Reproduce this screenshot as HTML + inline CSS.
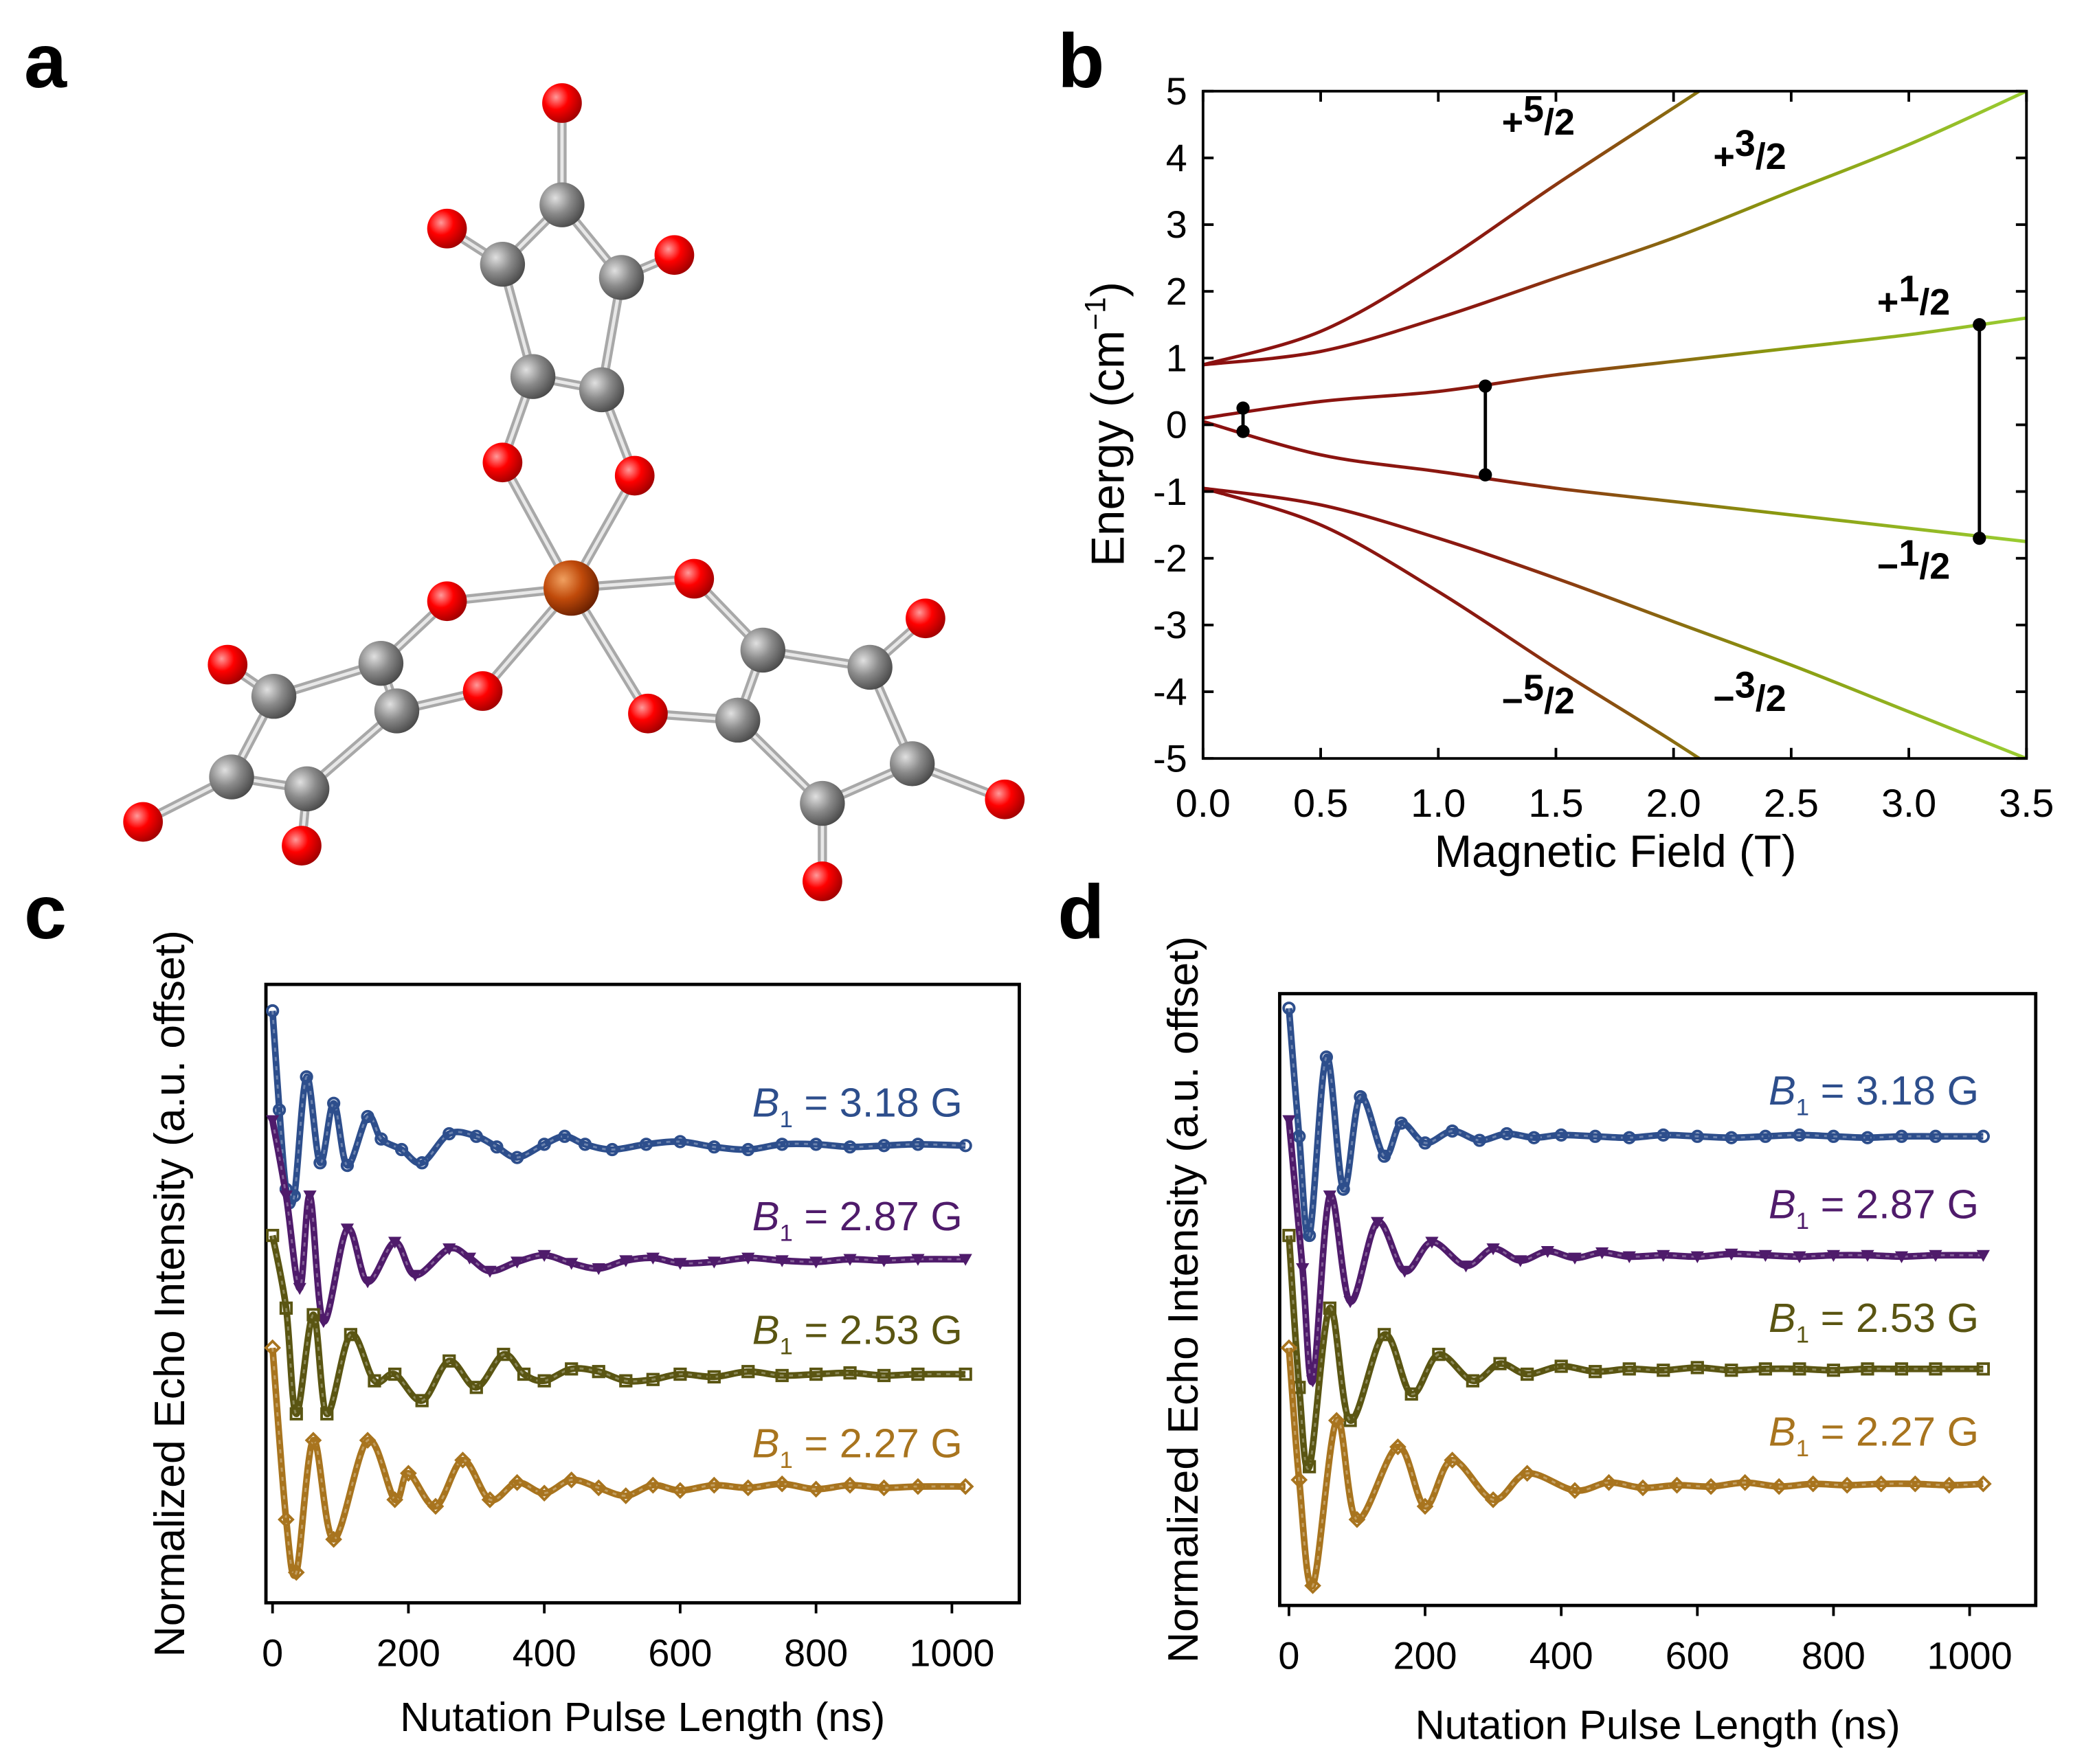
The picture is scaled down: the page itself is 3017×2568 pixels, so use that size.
<!DOCTYPE html>
<html><head><meta charset="utf-8">
<style>
html,body{margin:0;padding:0;background:#fff;}
svg{display:block;font-family:"Liberation Sans",Arial,sans-serif;}
</style></head>
<body>
<svg id="fig" width="3017" height="2568" viewBox="0 0 1568 1335" xmlns="http://www.w3.org/2000/svg">
<defs>
<radialGradient id="gC" cx="0.35" cy="0.35" r="0.7"><stop offset="0" stop-color="#e0e0e0"/><stop offset="0.5" stop-color="#8a8a8a"/><stop offset="1" stop-color="#4a4a4a"/></radialGradient>
<radialGradient id="gO" cx="0.35" cy="0.35" r="0.7"><stop offset="0" stop-color="#ff9a9a"/><stop offset="0.45" stop-color="#ff0000"/><stop offset="1" stop-color="#a00000"/></radialGradient>
<radialGradient id="gFe" cx="0.35" cy="0.35" r="0.7"><stop offset="0" stop-color="#f0a060"/><stop offset="0.5" stop-color="#c04a0a"/><stop offset="1" stop-color="#6a2000"/></radialGradient>
<linearGradient id="lvl" gradientUnits="userSpaceOnUse" x1="910" y1="0" x2="1533" y2="0"><stop offset="0" stop-color="#8b1010"/><stop offset="0.35" stop-color="#8b1a10"/><stop offset="0.7" stop-color="#8a9a10"/><stop offset="1" stop-color="#9acd32"/></linearGradient>
</defs>
<g id="labels" font-weight="bold" font-size="58" fill="#000">
<text x="18" y="66">a</text>
<text x="800" y="66">b</text>
<text x="18" y="710">c</text>
<text x="800" y="710">d</text>
</g>
<g id="mol"></g>
<g id="pb"></g>
<g id="pc"></g>
<g id="pd"></g>
</svg>
<script>
const NS="http://www.w3.org/2000/svg";
function mk(p,t,a){const e=document.createElementNS(NS,t);for(const k in a)e.setAttribute(k,a[k]);p.appendChild(e);return e;}

// ---------- Panel a: molecule ----------
const atomsC=[[425,155],[380,200],[470,210],[403,285],[455,295],[288,502],[300,538],[207,527],[175,588],[232,597],[577,492],[558,545],[658,505],[690,578],[622,608]];
const atomsO=[[425,78],[338,173],[510,193],[380,350],[480,360],[338,455],[365,523],[172,503],[108,622],[228,640],[525,438],[490,540],[700,468],[760,605],[622,667]];
const bonds=[[432,445,380,350],[432,445,480,360],[432,445,338,455],[432,445,365,523],[432,445,525,438],[432,445,490,540],
[425,78,425,155],[425,155,380,200],[425,155,470,210],[380,200,338,173],[470,210,510,193],[380,200,403,285],[470,210,455,295],[403,285,455,295],[403,285,380,350],[455,295,480,360],
[338,455,288,502],[365,523,300,538],[288,502,300,538],[288,502,207,527],[300,538,232,597],[207,527,172,503],[207,527,175,588],[175,588,108,622],[175,588,232,597],[232,597,228,640],
[525,438,577,492],[490,540,558,545],[577,492,558,545],[577,492,658,505],[558,545,622,608],[658,505,700,468],[658,505,690,578],[690,578,760,605],[690,578,622,608],[622,608,622,667]];
const mol=document.getElementById('mol');
bonds.forEach(b=>{
const l=mk(mol,'line',{x1:b[0],y1:b[1],x2:b[2],y2:b[3],stroke:'#a8a8a8','stroke-width':7});


mk(mol,'line',{x1:b[0],y1:b[1],x2:b[2],y2:b[3],stroke:'#e8e8e8','stroke-width':2.5});
});
atomsC.forEach(a=>{const c=mk(mol,'circle',{cx:a[0],cy:a[1],r:17,fill:'url(#gC)'});

});
atomsO.forEach(a=>{const c=mk(mol,'circle',{cx:a[0],cy:a[1],r:15,fill:'url(#gO)'});

});
const fe=mk(mol,'circle',{cx:432,cy:445,r:21,fill:'url(#gFe)'});



// ---------- Panel b ----------
const bField=[0,0.5,1.0,1.5,2.0,2.5,3.0,3.5];
const lvlP52=[0.9,1.4,2.4,3.6,4.75,5.9,7.0,8.1];
const lvlP32=[0.9,1.1,1.6,2.2,2.8,3.5,4.2,5.0];
const lvlP12=[0.1,0.35,0.5,0.75,0.95,1.15,1.35,1.6];
const lvlM12=[0.05,-0.45,-0.7,-0.95,-1.15,-1.35,-1.55,-1.75];
const lvlM32=[-0.95,-1.2,-1.7,-2.3,-2.95,-3.6,-4.3,-5.0];
const lvlM52=[-0.95,-1.5,-2.5,-3.65,-4.75,-5.9,-7.0,-8.1];
const transB=[0.17,1.2,3.3];
const transHi=[0.25,0.58,1.5];
const transLo=[-0.1,-0.75,-1.7];
const bXticks=["0.0","0.5","1.0","1.5","2.0","2.5","3.0","3.5"];
const bYticks=[5,4,3,2,1,0,-1,-2,-3,-4,-5];
(function(){
const g=document.getElementById('pb');
const X0=910,X1=1533,Y0=574,Y1=69;
const sx=v=>X0+(v/3.5)*(X1-X0), sy=v=>Y0-((v+5)/10)*(Y0-Y1);
const clip=mk(g,'clipPath',{id:'clipb'});mk(clip,'rect',{x:X0,y:Y1,width:X1-X0,height:Y0-Y1});
const cg=mk(g,'g',{'clip-path':'url(#clipb)'});
function smooth(xs,ys){const p=xs.map((x,i)=>[sx(x),sy(ys[i])]);
let d='M'+p[0][0]+','+p[0][1];
for(let i=0;i<p.length-1;i++){const p0=p[i-1]||p[i],p1=p[i],p2=p[i+1],p3=p[i+2]||p2;
d+=` C${p1[0]+(p2[0]-p0[0])/6},${p1[1]+(p2[1]-p0[1])/6} ${p2[0]-(p3[0]-p1[0])/6},${p2[1]-(p3[1]-p1[1])/6} ${p2[0]},${p2[1]}`;}
return d;}
[[lvlP52,'level-plus-5-2'],[lvlP32,'level-plus-3-2'],[lvlP12,'level-plus-1-2'],[lvlM12,'level-minus-1-2'],[lvlM32,'level-minus-3-2'],[lvlM52,'level-minus-5-2']].forEach(([ys,n])=>{
const p=mk(cg,'path',{d:smooth(bField,ys),fill:'none',stroke:'url(#lvl)','stroke-width':2.5});

});
transB.forEach((b,i)=>{
const l=mk(g,'line',{x1:sx(b),x2:sx(b),y1:sy(transHi[i]),y2:sy(transLo[i]),stroke:'#000','stroke-width':2.5});


mk(g,'circle',{cx:sx(b),cy:sy(transHi[i]),r:5,fill:'#000'});
mk(g,'circle',{cx:sx(b),cy:sy(transLo[i]),r:5,fill:'#000'});
});
const fr=mk(g,'rect',{x:X0,y:Y1,width:X1-X0,height:Y0-Y1,fill:'none',stroke:'#000','stroke-width':2});


bXticks.forEach((t,i)=>{const x=sx(i*0.5);
mk(g,'line',{x1:x,x2:x,y1:Y0,y2:Y0-8,stroke:'#000','stroke-width':2});
mk(g,'line',{x1:x,x2:x,y1:Y1,y2:Y1+8,stroke:'#000','stroke-width':2});
const tx=mk(g,'text',{x:x,y:Y0+44,'font-size':30,'text-anchor':'middle'});tx.textContent=t;

});
bYticks.forEach(v=>{const y=sy(v);
mk(g,'line',{x1:X0,x2:X0+8,y1:y,y2:y,stroke:'#000','stroke-width':2});
mk(g,'line',{x1:X1,x2:X1-8,y1:y,y2:y,stroke:'#000','stroke-width':2});
const tx=mk(g,'text',{x:X0-12,y:y+10,'font-size':29,'text-anchor':'end'});tx.textContent=v;

});
const xl=mk(g,'text',{x:1222,y:656,'font-size':34,'text-anchor':'middle'});xl.textContent='Magnetic Field (T)';


const yl=mk(g,'text',{transform:'translate(850,321) rotate(-90)','font-size':35,'text-anchor':'middle'});
yl.innerHTML='Energy (cm<tspan dy="-14" font-size="22">−1</tspan><tspan dy="14">)</tspan>';


const labs=[[1136,102,'+','5'],[1296,128,'+','3'],[1420,238,'+','1'],[1420,438,'−','1'],[1136,540,'−','5'],[1296,538,'−','3']];
labs.forEach(l=>{const t=mk(g,'text',{x:l[0],y:l[1],'font-size':28,'font-weight':'bold'});
t.innerHTML=`${l[2]}<tspan dy="-10">${l[3]}</tspan><tspan dy="10">/2</tspan>`;

});
})();

// ---------- Panels c, d ----------
const nsTicks=[0,200,400,600,800,1000];
const cBlueT=[0,10,20,32,50,70,90,110,140,160,190,220,260,300,330,360,400,430,460,500,550,600,650,700,750,800,850,900,950,1020];
const cBlueV=[765,840,900,905,815,880,835,882,845,862,870,880,858,860,868,876,866,860,866,870,866,864,868,870,866,866,868,867,866,867];
const cPurpT=[0,20,40,55,75,110,140,180,210,260,290,320,360,400,440,480,520,560,600,650,700,750,800,850,900,950,1020];
const cPurpV=[848,905,975,905,1000,930,970,940,965,945,952,962,955,950,956,960,954,952,956,955,952,954,955,953,954,953,953];
const cOlivT=[0,20,35,60,80,115,150,180,220,260,300,340,370,400,440,480,520,560,600,650,700,750,800,850,900,950,1020];
const cOlivV=[935,990,1070,995,1070,1010,1045,1040,1060,1030,1050,1025,1040,1045,1036,1038,1045,1044,1040,1042,1038,1041,1040,1039,1041,1040,1040];
const cOranT=[0,20,35,60,90,140,180,200,240,280,320,360,400,440,480,520,560,600,650,700,750,800,850,900,950,1020];
const cOranV=[1020,1150,1190,1090,1165,1090,1135,1115,1140,1105,1135,1122,1130,1120,1126,1132,1124,1128,1124,1126,1123,1127,1124,1126,1125,1125];
const dBlueT=[0,15,30,55,80,105,140,165,200,240,280,320,360,400,450,500,550,600,650,700,750,800,850,900,950,1020];
const dBlueV=[763,860,935,800,900,830,875,850,865,856,863,858,861,859,860,861,859,860,861,860,859,860,861,860,860,860];
const dPurpT=[0,20,35,60,90,130,170,210,260,300,340,380,420,460,500,550,600,650,700,750,800,850,900,950,1020];
const dPurpV=[848,960,1045,905,985,925,962,940,958,945,954,947,952,948,951,950,951,949,950,951,950,950,951,950,950];
const dOlivT=[0,15,30,60,90,140,180,220,270,310,350,400,450,500,550,600,650,700,750,800,850,900,950,1020];
const dOlivV=[935,1050,1110,990,1075,1010,1055,1025,1045,1032,1040,1034,1038,1036,1037,1035,1037,1036,1036,1037,1036,1036,1036,1036];
const dOranT=[0,15,35,70,100,160,200,240,300,350,420,470,520,570,620,670,720,770,820,870,920,970,1020];
const dOranV=[1020,1120,1200,1075,1150,1095,1140,1105,1135,1115,1128,1122,1126,1124,1125,1122,1125,1123,1124,1123,1123,1124,1123];
const cLabels=["3.18","2.87","2.53","2.27"];
const dLabels=["3.18","2.87","2.53","2.27"];

function nutation(id,X0,X1,Y0,Y1,x0,x1000,series,labels,labX,labYs,titleY){
const g=document.getElementById(id);
const sx=t=>x0+t/1000*(x1000-x0);
const fr=mk(g,'rect',{x:X0,y:Y1,width:X1-X0,height:Y0-Y1,fill:'none',stroke:'#000','stroke-width':2.5});


nsTicks.forEach(t=>{const x=sx(t);
mk(g,'line',{x1:x,x2:x,y1:Y0,y2:Y0+8,stroke:'#000','stroke-width':2});
const tx=mk(g,'text',{x:x,y:Y0+48,'font-size':29,'text-anchor':'middle'});tx.textContent=t;

});
const xl=mk(g,'text',{x:(X0+X1)/2,y:titleY,'font-size':31,'text-anchor':'middle'});xl.textContent='Nutation Pulse Length (ns)';


const yl=mk(g,'text',{transform:`translate(${X0-62},${(Y0+Y1)/2}) rotate(-90)`,'font-size':32.5,'text-anchor':'middle'});yl.textContent='Normalized Echo Intensity (a.u. offset)';


const colors=['#2d4e8c','#4f1b6b','#5a5512','#a8741e'];
const shapes=['circle','tri','square','diamond'];
series.forEach((s,k)=>{const [T,V]=s;const c=colors[k];
const p=T.map((t,i)=>[sx(t),V[i]]);
let d='M'+p[0][0]+','+p[0][1];
for(let i=0;i<p.length-1;i++){const p0=p[i-1]||p[i],p1=p[i],p2=p[i+1],p3=p[i+2]||p2;
d+=` C${p1[0]+(p2[0]-p0[0])/6},${p1[1]+(p2[1]-p0[1])/6} ${p2[0]-(p3[0]-p1[0])/6},${p2[1]-(p3[1]-p1[1])/6} ${p2[0]},${p2[1]}`;}
const pa=mk(g,'path',{d:d,fill:'none',stroke:c,'stroke-width':5,'stroke-linejoin':'round'});


mk(g,'path',{d:d,fill:'none',stroke:'#ffffff','stroke-opacity':0.3,'stroke-width':1.5,'stroke-dasharray':'3 4'});
p.forEach(q=>{let m;
if(shapes[k]==='circle')m=mk(g,'circle',{cx:q[0],cy:q[1],r:4,fill:'none',stroke:c,'stroke-width':2});
else if(shapes[k]==='tri')m=mk(g,'path',{d:`M${q[0]-5},${q[1]-4}L${q[0]+5},${q[1]-4}L${q[0]},${q[1]+5}Z`,fill:c});
else if(shapes[k]==='square')m=mk(g,'rect',{x:q[0]-4,y:q[1]-4,width:8,height:8,fill:'none',stroke:c,'stroke-width':2});
else m=mk(g,'path',{d:`M${q[0]},${q[1]-5}L${q[0]+5},${q[1]}L${q[0]},${q[1]+5}L${q[0]-5},${q[1]}Z`,fill:'none',stroke:c,'stroke-width':2});

});
const lt=mk(g,'text',{x:labX,y:labYs[k],'font-size':31,fill:c,'text-anchor':'end'});
lt.innerHTML=`<tspan font-style="italic">B</tspan><tspan dy="8" font-size="18">1</tspan><tspan dy="-8"> = ${labels[k]} G</tspan>`;


});
}
nutation('pc',201,771,1213,745,206,720,[[cBlueT,cBlueV],[cPurpT,cPurpV],[cOlivT,cOlivV],[cOranT,cOranV]],cLabels,728,[845,931,1017,1103],1310);
nutation('pd',968,1540,1215,752,975,1490,[[dBlueT,dBlueV],[dPurpT,dPurpV],[dOlivT,dOlivV],[dOranT,dOranV]],dLabels,1497,[836,922,1008,1094],1316);
</script>
</body></html>
